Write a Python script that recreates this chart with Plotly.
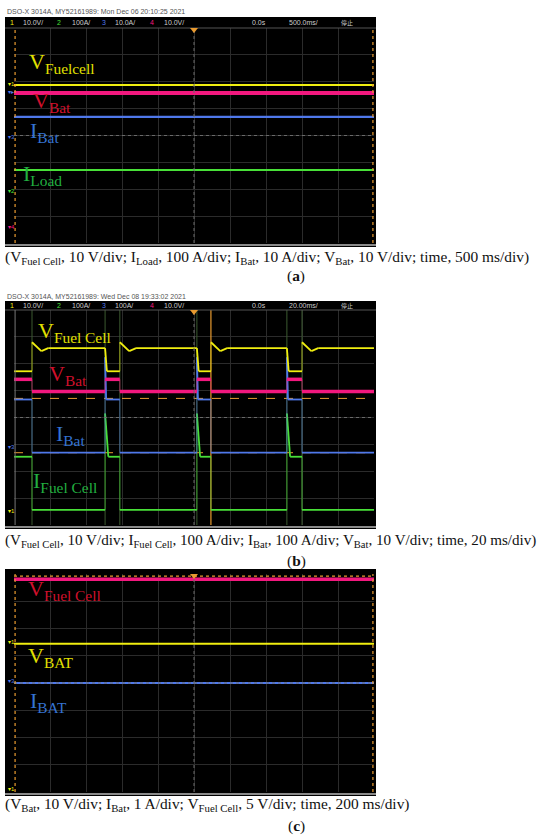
import plotly.graph_objects as go

W, H = 550, 838

# screen units: x in divisions 0..10, y in divisions -4..4

# (a) 500 ms/div - flat traces
A_T = [0, 10]
A_VFC = [1.88, 1.88]
A_VBAT = [1.58, 1.58]
A_IBAT = [0.69, 0.69]
A_ILOAD = [-1.28, -1.28]

# (b) 20 ms/div - switching
B_T_VFC = [0, 0.5, 0.5, 0.76, 0.95, 2.53, 2.58, 2.94, 2.94, 3.2, 3.39, 5.08, 5.13,
           5.47, 5.47, 5.73, 5.92, 7.58, 7.63, 8.0, 8.0, 8.26, 8.45, 10]
B_VFC = [1.72, 1.72, 2.80, 2.47, 2.58, 2.58, 1.72, 1.72, 2.80, 2.47, 2.58, 2.58, 1.72,
         1.72, 2.80, 2.47, 2.58, 2.58, 1.72, 1.72, 2.80, 2.47, 2.58, 2.58]
B_T_VBAT = [0, 0.5, 0.5, 2.53, 2.53, 2.94, 2.94, 5.08, 5.08, 5.47, 5.47, 7.58, 7.58, 8.0, 8.0, 10]
B_VBAT = [1.42, 1.42, 0.97, 0.97, 1.42, 1.42, 0.97, 0.97, 1.42, 1.42, 0.97, 0.97, 1.42, 1.42, 0.97, 0.97]
B_T_IBAT = [0, 0.5, 0.5, 2.53, 2.53, 2.56, 2.94, 2.94, 5.08, 5.08, 5.11, 5.47, 5.47,
            7.58, 7.58, 7.61, 8.0, 8.0, 10]
B_IBAT = [0.67, 0.67, -1.31, -1.31, 2.24, 0.67, 0.67, -1.31, -1.31, 2.24, 0.67, 0.67, -1.31,
          -1.31, 2.24, 0.67, 0.67, -1.31, -1.31]
B_T_IFC = [0, 0.5, 0.5, 2.53, 2.53, 2.62, 2.94, 2.94, 5.08, 5.08, 5.17, 5.47, 5.47,
           7.58, 7.58, 7.67, 8.0, 8.0, 10]
B_IFC = [-1.46, -1.46, -3.44, -3.44, 0.15, -1.46, -1.46, -3.44, -3.44, 0.15, -1.46, -1.46, -3.44,
         -3.44, 0.15, -1.46, -1.46, -3.44, -3.44]
B_EDGES = [0.5, 2.53, 2.94, 5.08, 7.58, 8.0]
B_TRIG = 5.47
B_REF_LEVELS = [0.71, -1.31]

# (c) 200 ms/div - flat traces
C_T = [0, 10]
C_VFC = [3.81, 3.81]
C_VBAT = [1.44, 1.44]
C_IBAT = [0.0, 0.0]

YEL, MAG, BLU, GRN = "#f0ee10", "#f2187e", "#4f78ea", "#48e038"
ORANGE = "#e89a30"


def px(x):
    return x / W


def py(y):
    return 1 - y / H


# pixel boxes of the three screens (plot area)
X0, X1 = 14, 374
BOXES = [(28, 243), (310, 525), (574, 792)]

fig = go.Figure()


def line(xs, ys, color, width, ax, dash="solid", opacity=1.0):
    fig.add_trace(go.Scatter(x=xs, y=ys, mode="lines", opacity=opacity,
                             line=dict(color=color, width=width, dash=dash),
                             xaxis="x" + ax, yaxis="y" + ax, hoverinfo="skip", showlegend=False))


def wave(xs, ys, color, width, ax):
    # levels drawn thick, vertical switching edges drawn faint
    lx, ly, ex, ey = [], [], [], []
    for i in range(len(xs) - 1):
        if xs[i] == xs[i + 1]:
            ex += [xs[i], xs[i + 1], None]
            ey += [ys[i], ys[i + 1], None]
        else:
            lx += [xs[i], xs[i + 1], None]
            ly += [ys[i], ys[i + 1], None]
    line(ex, ey, color, 1, ax, opacity=0.55)
    line(lx, ly, color, width, ax)


# (a)
line(A_T, A_ILOAD, GRN, 2, "")
line(A_T, A_IBAT, BLU, 2.2, "")
line(A_T, A_VBAT, MAG, 4, "")
line(A_T, A_VFC, YEL, 2, "")

# (b)
ex, ey = [], []
for e in B_EDGES:
    ex += [e, e, None]
    ey += [-4, 4, None]
line(ex, ey, "#3c5a30", 1, "2")
line([B_TRIG, B_TRIG], [-4, 4], ORANGE, 1.2, "2")
for lv in B_REF_LEVELS:
    line([0, 10], [lv, lv], ORANGE, 1, "2", dash="dash")
wave(B_T_IFC, B_IFC, GRN, 1.8, "2")
wave(B_T_IBAT, B_IBAT, BLU, 1.8, "2")
wave(B_T_VBAT, B_VBAT, MAG, 3.5, "2")
wave(B_T_VFC, B_VFC, YEL, 1.8, "2")

# (c)
line(C_T, C_IBAT, BLU, 2.2, "3")
line(C_T, C_VBAT, YEL, 2, "3")
line(C_T, C_VFC, MAG, 3.5, "3")

shapes = []
annots = []

# black screens, status bars and frames
screens = [(17, 247), (301, 529), (569, 796)]
for (t, b) in screens:
    shapes.append(dict(type="rect", xref="paper", yref="paper", x0=px(5), x1=px(376), y0=py(b), y1=py(t),
                       fillcolor="black", line=dict(width=0), layer="below"))
for (t, b) in BOXES:
    shapes.append(dict(type="line", xref="paper", yref="paper", x0=px(5), x1=px(376), y0=py(b + 2), y1=py(b + 2),
                       line=dict(color="#8a8a8a", width=2)))
for (t, b) in BOXES[:2]:
    shapes.append(dict(type="line", xref="paper", yref="paper", x0=px(5), x1=px(376), y0=py(t), y1=py(t),
                       line=dict(color="#555", width=1)))

for i, ax in enumerate(["", "2", "3"]):
    xr, yr = "x" + ax, "y" + ax
    shapes.append(dict(type="line", xref=xr + " domain", yref=yr + " domain", x0=0.5, x1=0.5, y0=0, y1=1,
                       line=dict(color="#6a6a6a", width=1, dash="dot")))
    shapes.append(dict(type="line", xref=xr + " domain", yref=yr + " domain", x0=0, x1=1, y0=0.5, y1=0.5,
                       line=dict(color="#6a6a6a", width=1, dash="dot")))
    # trigger triangle
    t = BOXES[i][0]
    shapes.append(dict(type="path", xref="paper", yref="paper",
                       path=f"M {px(190)} {py(t)} L {px(198)} {py(t)} L {px(194)} {py(t + 5)} Z",
                       fillcolor=ORANGE, line=dict(width=0)))

# orange dashed frame edges
shapes.append(dict(type="line", xref="x domain", yref="y domain", x0=0.003, x1=0.003, y0=0, y1=1,
                   line=dict(color=ORANGE, width=1.2, dash="dot")))
shapes.append(dict(type="line", xref="x domain", yref="y domain", x0=0.997, x1=0.997, y0=0, y1=1,
                   line=dict(color=ORANGE, width=1.2, dash="dot")))
shapes.append(dict(type="line", xref="x2 domain", yref="y2 domain", x0=0.003, x1=0.003, y0=0, y1=1,
                   line=dict(color="#777", width=1)))
for x0 in (0.003, 0.997):
    shapes.append(dict(type="line", xref="x3 domain", yref="y3 domain", x0=x0, x1=x0, y0=0, y1=1,
                       line=dict(color=ORANGE, width=1.2, dash="dot")))
shapes.append(dict(type="line", xref="x3 domain", yref="y3 domain", x0=0, x1=1, y0=0.99, y1=0.99,
                   line=dict(color=ORANGE, width=1.2, dash="dot")))


def text(x, y, s, size, color, family="Liberation Serif", xanchor="left", yanchor="middle"):
    annots.append(dict(x=px(x), y=py(y), xref="paper", yref="paper", text=s, showarrow=False,
                       xanchor=xanchor, yanchor=yanchor, font=dict(size=size, color=color, family=family)))


SANS = "Liberation Sans Narrow, Liberation Sans, Noto Sans CJK SC"

# header lines
text(5, 12, "DSO-X 3014A, MY52161989: Mon Dec 06 20:10:25 2021", 7, "#555", SANS)
text(5, 296, "DSO-X 3014A, MY52161989: Wed Dec 08 19:33:02 2021", 7, "#555", SANS)

# status bars
for y, i3, tdiv in [(23, "10.0A/", "500.0ms/"), (306, "100A/", "20.00ms/")]:
    text(8, y, "1", 7, YEL, SANS)
    text(21, y, "10.0V/", 7, "#ccc", SANS)
    text(55, y, "2", 7, GRN, SANS)
    text(70, y, "100A/", 7, "#ccc", SANS)
    text(100, y, "3", 7, BLU, SANS)
    text(113, y, i3, 7, "#ccc", SANS)
    text(148, y, "4", 7, MAG, SANS)
    text(162, y, "10.0V/", 7, "#ccc", SANS)
    text(250, y, "0.0s", 7, "#ccc", SANS)
    text(287, y, tdiv, 7, "#ccc", SANS)
    text(339, y, "停止", 6, "#ccc", SANS)

# channel markers
for y, s, c in [(84, "1", YEL), (92, "▸", BLU), (137, "3", BLU), (191, "2", GRN), (227, "4", MAG),
                (447, "3", BLU), (511, "1", YEL),
                (642, "1", YEL), (681, "3", BLU), (789, "1", YEL)]:
    text(6, y, "▾" + s, 6, c, SANS)

# trace labels
LY, LR, LB, LG = "#e2e000", "#d0102c", "#3473d2", "#22b040"
SUB = lambda a, b: f"{a}<sub>{b}</sub>"
text(27, 47, SUB("V", "Fuelcell"), 22, LY, yanchor="top")
text(31, 86, SUB("V", "Bat"), 22, LR, yanchor="top")
text(28, 116, SUB("I", "Bat"), 22, LB, yanchor="top")
text(21, 159, SUB("I", "Load"), 22, LG, yanchor="top")

text(36, 316, SUB("V", "Fuel Cell"), 22, LY, yanchor="top")
text(47, 359, SUB("V", "Bat"), 22, LR, yanchor="top")
text(54, 419, SUB("I", "Bat"), 22, LB, yanchor="top")
text(31, 466, SUB("I", "Fuel Cell"), 22, LG, yanchor="top")

text(26, 574, SUB("V", "Fuel Cell"), 22, LR, yanchor="top")
text(26, 641, SUB("V", "BAT"), 22, LY, yanchor="top")
text(28, 686, SUB("I", "BAT"), 22, LB, yanchor="top")

# captions
CAP = "#111"
FS = 15.4
text(3, 257, "(V<sub>Fuel Cell</sub>, 10 V/div; I<sub>Load</sub>, 100 A/div; I<sub>Bat</sub>, 10 A/div; "
             "V<sub>Bat</sub>, 10 V/div; time, 500 ms/div)", FS, CAP)
text(296, 276, "(<b>a</b>)", FS, CAP, xanchor="center")
text(3, 541, "(V<sub>Fuel Cell</sub>, 10 V/div; I<sub>Fuel Cell</sub>, 100 A/div; I<sub>Bat</sub>, 100 A/div; "
             "V<sub>Bat</sub>, 10 V/div; time, 20 ms/div)", 15.1, CAP)
text(296, 561, "(<b>b</b>)", FS, CAP, xanchor="center")
text(3, 804, "(V<sub>Bat</sub>, 10 V/div; I<sub>Bat</sub>, 1 A/div; V<sub>Fuel Cell</sub>, 5 V/div; "
             "time, 200 ms/div)", FS, CAP)
text(296, 826, "(<b>c</b>)", FS, CAP, xanchor="center")

layout = dict(width=W, height=H, margin=dict(l=0, r=0, t=0, b=0), paper_bgcolor="white",
              plot_bgcolor="black", showlegend=False, shapes=shapes, annotations=annots)
for i, (t, b) in enumerate(BOXES):
    sfx = "" if i == 0 else str(i + 1)
    layout["xaxis" + sfx] = dict(domain=[px(X0), px(X1)], range=[0, 10], dtick=1, showgrid=True,
                                 gridcolor="#2b2b2b", gridwidth=1, zeroline=False, showticklabels=False,
                                 anchor="y" + sfx, fixedrange=True, showline=False, ticks="")
    layout["yaxis" + sfx] = dict(domain=[py(b), py(t)], range=[-4, 4], dtick=1, showgrid=True,
                                 gridcolor="#2b2b2b", gridwidth=1, zeroline=False, showticklabels=False,
                                 anchor="x" + sfx, fixedrange=True, showline=False, ticks="")
fig.update_layout(**layout)

# the page itself should not add the default 8px body margin
fig.write_html("out.html", config={"displayModeBar": False},
               post_script="document.body.style.margin='0';")
